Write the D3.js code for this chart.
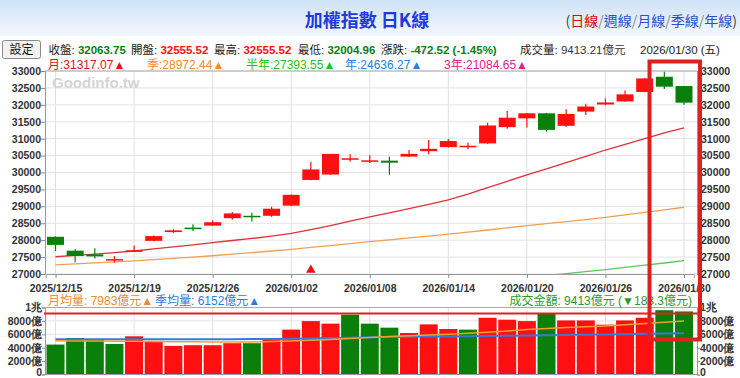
<!DOCTYPE html>
<html><head><meta charset="utf-8">
<script src="https://cdn.jsdelivr.net/npm/d3@7"></script>
<style>
body{margin:0;background:#fff;}
svg{display:block;font-family:"Liberation Sans",Arial,"Noto Sans CJK TC",sans-serif;}
</style>
</head><body>
<svg id="chart" width="740" height="378"></svg>
<script>
// ---------------- data ----------------
const dates = ["2025/12/15","2025/12/16","2025/12/17","2025/12/18","2025/12/19","2025/12/22","2025/12/23","2025/12/24","2025/12/26","2025/12/29","2025/12/30","2025/12/31","2026/01/02","2026/01/05","2026/01/06","2026/01/07","2026/01/08","2026/01/09","2026/01/12","2026/01/13","2026/01/14","2026/01/15","2026/01/16","2026/01/19","2026/01/20","2026/01/21","2026/01/22","2026/01/23","2026/01/26","2026/01/27","2026/01/28","2026/01/29","2026/01/30"];
const opens  = [28100,27690,27580,27420,27680,27980,28240,28370,28430,28650,28720,28720,29020,29780,29940,30400,30340,30350,30470,30630,30750,30770,30860,31340,31600,31750,31380,31800,32010,32100,32380,32830,32555.52];
const highs  = [28110,27730,27760,27530,27840,28140,28320,28470,28580,28830,28810,28990,29350,30320,30550,30540,30510,30470,30665,30960,30990,30880,31470,31820,31760,31760,31870,32030,32190,32420,32790,32980,32555.52];
const lows   = [27680,27350,27460,27340,27650,27970,28210,28270,28420,28600,28550,28690,29010,29770,29930,30320,30280,29930,30460,30540,30740,30690,30850,31290,31330,31210,31350,31700,31990,32090,32370,32470,32004.96];
const closes = [27860,27530,27520,27440,27700,28120,28290,28350,28530,28790,28700,28930,29340,30090,30550,30420,30360,30290,30550,30700,30930,30790,31390,31620,31750,31260,31730,31950,32070,32310,32780,32536.27,32063.75];
const volumes = [4470,5450,5300,4560,5700,4960,4270,4370,4370,4670,4670,5450,6700,7970,7590,8920,7590,6990,6190,7480,6790,6700,8470,8180,7970,9070,8070,8070,7440,8070,8470,9596,9413];
const maMonth   = [27510,27550,27590,27630,27680,27740,27800,27860,27925,27990,28050,28120,28200,28310,28430,28560,28690,28810,28930,29060,29190,29360,29550,29740,29930,30110,30290,30480,30665,30830,31000,31170,31317.07];
const maQuarter = [27270,27300,27330,27360,27390,27425,27460,27500,27540,27585,27630,27680,27730,27785,27840,27900,27955,28010,28065,28120,28180,28240,28300,28365,28430,28490,28550,28610,28675,28745,28820,28895,28972.44];
const maHalf    = [null,null,null,null,null,null,null,null,null,null,null,null,null,null,null,null,null,null,null,null,null,null,26800,26850,26900,26955,27010,27070,27130,27195,27260,27325,27393.55];
const volMaMonth   = [5020,5000,4990,4970,4950,4930,4900,4870,4850,4850,4860,4920,5000,5100,5220,5380,5540,5680,5800,5900,6000,6140,6300,6500,6700,6850,7000,7120,7250,7420,7600,7800,7983];
const volMaQuarter = [5260,5258,5255,5252,5250,5250,5248,5248,5250,5265,5285,5310,5340,5390,5440,5500,5560,5600,5630,5660,5690,5720,5750,5790,5830,5870,5910,5945,5980,6020,6065,6110,6152];
const tickDates = ["2025/12/15","2025/12/19","2025/12/26","2026/01/02","2026/01/08","2026/01/14","2026/01/20","2026/01/26","2026/01/30"];
const priceTicks = [27000,27500,28000,28500,29000,29500,30000,30500,31000,31500,32000,32500,33000];
const volTicks = [0,2000,4000,6000,8000,10000];
const volTickLabels = ["0","2000億","4000億","6000億","8000億","1兆"];
const markerDates = ["2026/01/05"];
const maLegend = ["月:31317.07▲","季:28972.44▲","半年:27393.55▲","年:24636.27▲","3年:21084.65▲"];
const volLegend = ["月均量: 7983億元▲","季均量: 6152億元▲"];
const turnoverText = "成交金額: 9413億元 (▼183.3億元)";
const titleText = "加權指數 日K線";
const navItems = ["日線","週線","月線","季線","年線"];
const infoItems = [["收盤: ","32063.75"],["開盤: ","32555.52"],["最高: ","32555.52"],["最低: ","32004.96"],["漲跌: ","-472.52 (-1.45%)"],["成交量: ","9413.21億元"]];
const infoDate = "2026/01/30 (五)";

// ---------------- styles / layout ----------------
const RED = "#ff1010", GREEN = "#0a800a", DARK = "#333";
const svg = d3.select("#chart");
const P = {l:45, r:697, t:71, b:274};
const V = {t:307.5, b:374.5};

const x = d3.scalePoint().domain(dates).range([45.7, 693.8]).padding(0.5);
const y = d3.scaleLinear().domain([27000,33000]).range([P.b, P.t]);
const yv = d3.scaleLinear().domain([0,10000]).range([V.b, V.t]);

// header gradient
const defs = svg.append("defs");
const g1 = defs.append("linearGradient").attr("id","hdr").attr("x1",0).attr("y1",0).attr("x2",0).attr("y2",1);
g1.append("stop").attr("offset","0%").attr("stop-color","#cfe2f6");
g1.append("stop").attr("offset","100%").attr("stop-color","#f3f8fd");
svg.append("rect").attr("x",0).attr("y",0).attr("width",740).attr("height",36).attr("fill","url(#hdr)");
defs.append("clipPath").attr("id","pclip").append("rect").attr("x",P.l).attr("y",P.t).attr("width",P.r-P.l).attr("height",P.b-P.t);

svg.append("text").attr("x",367).attr("y",27).attr("text-anchor","middle")
  .attr("font-size",18).attr("font-weight","bold").attr("fill","#1f3ae0")
  .attr("font-family","'Noto Sans CJK TC','Liberation Sans',sans-serif").text(titleText);

// nav
const nav = svg.append("text").attr("x",737).attr("y",26).attr("text-anchor","end")
  .attr("font-size",14).attr("font-family","'Noto Sans CJK TC',sans-serif");
nav.append("tspan").attr("fill","#444").text("(");
navItems.forEach((t,i)=>{
  if(i>0) nav.append("tspan").attr("fill","#888").text("/");
  nav.append("tspan").attr("fill", i===0 ? "#e00000" : "#2a4fd0").text(t);
});
nav.append("tspan").attr("fill","#444").text(")");

// info row
svg.append("rect").attr("x",2.5).attr("y",40.5).attr("width",38).attr("height",18).attr("rx",2)
  .attr("fill","#f2f2f2").attr("stroke","#8a8a8a");
svg.append("text").attr("x",21.5).attr("y",54).attr("text-anchor","middle").attr("font-size",12)
  .attr("fill","#111").attr("font-family","'Noto Sans CJK TC',sans-serif").text("設定");
const infoX = [48.5,131,214,298,381,520];
const infoColors = [GREEN,RED,RED,GREEN,GREEN,DARK];
infoItems.forEach((it,i)=>{
  const t = svg.append("text").attr("x",infoX[i]).attr("y",53.5).attr("font-size",11.5);
  t.append("tspan").attr("fill","#222").text(it[0]);
  t.append("tspan").attr("fill",infoColors[i]).attr("font-weight", i<5 ? "bold":"normal").text(it[1]);
});
svg.append("text").attr("x",640).attr("y",53.5).attr("font-size",11.5).attr("fill","#222").text(infoDate);

// MA legend
const maColors = ["#e8101a","#f08a30","#22c322","#2a7de0","#e0208a"];
const maLegX = [48,147,246,345,444];
maLegend.forEach((t,i)=>{
  svg.append("text").attr("x",maLegX[i]).attr("y",69).attr("font-size",12).attr("fill",maColors[i]).text(t);
});

// price grid
const grid = svg.append("g");
grid.selectAll("line.h").data(priceTicks).join("line")
  .attr("x1",P.l).attr("x2",P.r).attr("y1",d=>y(d)).attr("y2",d=>y(d))
  .attr("stroke","#e4e4e4");
grid.selectAll("line.v").data(tickDates).join("line")
  .attr("x1",d=>x(d)).attr("x2",d=>x(d)).attr("y1",P.t).attr("y2",P.b).attr("stroke","#e0e0e0");

// watermark
svg.append("text").attr("x",52).attr("y",88).attr("font-size",15).attr("font-weight","bold")
  .attr("fill","#d4d4d4").text("Goodinfo.tw");

// axes
const axL = svg.append("g").attr("transform",`translate(${P.l},0)`)
  .call(d3.axisLeft(y).tickValues(priceTicks).tickSize(4).tickFormat(d3.format("d")));
const axR = svg.append("g").attr("transform",`translate(${P.r},0)`)
  .call(d3.axisRight(y).tickValues(priceTicks).tickSize(3).tickFormat(d3.format("d")));
const axB = svg.append("g").attr("transform",`translate(0,${P.b})`)
  .call(d3.axisBottom(x).tickValues(tickDates).tickSize(4));
axB.selectAll("text").attr("dy","1.05em");
svg.append("line").attr("x1",P.l).attr("x2",P.r).attr("y1",P.t).attr("y2",P.t).attr("stroke","#aaa");
[axL,axR,axB].forEach(a=>{
  a.select(".domain").attr("stroke","#999");
  a.selectAll(".tick line").attr("stroke","#888");
  a.selectAll("text").attr("font-size",10.5).attr("font-weight","bold").attr("fill","#333").attr("font-family","'Liberation Sans',Arial,sans-serif");
});
axL.selectAll("text").attr("x",-4);
axR.selectAll("text").attr("x",4);

// MA lines
const pl = svg.append("g").attr("clip-path","url(#pclip)");
const line = d3.line().defined(d=>d[1]!=null).x(d=>x(d[0])).y(d=>y(d[1]));
[[maQuarter,"#f0a050"],[maHalf,"#55cc55"],[maMonth,"#e0303a"]].forEach(([arr,c])=>{
  pl.append("path").attr("d",line(dates.map((d,i)=>[d,arr[i]]))).attr("fill","none").attr("stroke",c).attr("stroke-width",1.3);
});

// candles
const bw = 17;
const cg = svg.append("g");
dates.forEach((d,i)=>{
  const up = closes[i] >= opens[i];
  const c = up ? RED : GREEN;
  cg.append("line").attr("x1",x(d)).attr("x2",x(d)).attr("y1",y(highs[i])).attr("y2",y(lows[i]))
    .attr("stroke",c).attr("stroke-width",1.2);
  const top = y(Math.max(opens[i],closes[i])), bot = y(Math.min(opens[i],closes[i]));
  cg.append("rect").attr("x",x(d)-bw/2).attr("y",top).attr("width",bw).attr("height",Math.max(1.5,bot-top))
    .attr("fill",c);
});
// event marker
markerDates.forEach(d=>{
  svg.append("path").attr("d",d3.symbol(d3.symbolTriangle,40)()).attr("transform",`translate(${x(d)},${P.b-4})`).attr("fill","#ee1111");
});

// volume panel
svg.append("g").selectAll("line").data(volTicks).join("line")
  .attr("x1",P.l).attr("x2",P.r).attr("y1",d=>yv(d)).attr("y2",d=>yv(d)).attr("stroke","#e4e4e4");
svg.append("g").selectAll("line").data(tickDates).join("line")
  .attr("x1",d=>x(d)).attr("x2",d=>x(d)).attr("y1",V.t).attr("y2",V.b).attr("stroke","#e0e0e0");
const vbw = 18;
svg.append("g").selectAll("rect").data(dates).join("rect")
  .attr("x",d=>x(d)-vbw/2).attr("width",vbw)
  .attr("y",(d,i)=>yv(volumes[i])).attr("height",(d,i)=>V.b-yv(volumes[i]))
  .attr("fill",(d,i)=>{
    const up = i===0 ? closes[i]>=opens[i] : closes[i]>=closes[i-1];
    return up ? RED : GREEN;
  });
const vline = d3.line().x(d=>x(d[0])).y(d=>yv(d[1]));
svg.append("path").attr("d",vline(dates.map((d,i)=>[d,volMaQuarter[i]]))).attr("fill","none").attr("stroke","#3a78d8").attr("stroke-width",2);
svg.append("path").attr("d",vline(dates.map((d,i)=>[d,volMaMonth[i]]))).attr("fill","none").attr("stroke","#f0a030").attr("stroke-width",1.5);

const vL = svg.append("g").attr("transform",`translate(${P.l},0)`)
  .call(d3.axisLeft(yv).tickValues(volTicks).tickSize(3).tickFormat((d,i)=>volTickLabels[i]));
const vR = svg.append("g").attr("transform",`translate(${P.r},0)`)
  .call(d3.axisRight(yv).tickValues(volTicks).tickSize(3).tickFormat((d,i)=>volTickLabels[i]));
svg.append("line").attr("x1",P.l).attr("x2",P.r).attr("y1",V.t).attr("y2",V.t).attr("stroke","#aaa");
svg.append("line").attr("x1",P.l).attr("x2",P.r).attr("y1",V.b).attr("y2",V.b).attr("stroke","#999");
[vL,vR].forEach(a=>{
  a.select(".domain").attr("stroke","#999");
  a.selectAll(".tick line").attr("stroke","#888");
  a.selectAll("text").attr("font-size",10.5).attr("font-weight","bold").attr("fill","#333");
  // keep the bottom "0" label inside the canvas
  a.selectAll(".tick").filter(d=>d===0).select("text").attr("dy","0.1em");
});
vL.selectAll("text").attr("x",-3);
vR.selectAll("text").attr("x",3);

// volume legends
svg.append("text").attr("x",48).attr("y",305).attr("font-size",12).attr("fill","#f08a30").text(volLegend[0]);
svg.append("text").attr("x",155).attr("y",305).attr("font-size",12).attr("fill","#2a7de0").text(volLegend[1]);
svg.append("text").attr("x",692).attr("y",305).attr("text-anchor","end").attr("font-size",12).attr("fill","#2a9a2a").text(turnoverText);

// red annotations
svg.append("line").attr("x1",44).attr("x2",701).attr("y1",313.5).attr("y2",313.5).attr("stroke","#e02020").attr("stroke-width",2);
svg.append("rect").attr("x",649.5).attr("y",61.5).attr("width",50.5).attr("height",278)
  .attr("fill","none").attr("stroke","#e02020").attr("stroke-width",4);
</script>
</body></html>
